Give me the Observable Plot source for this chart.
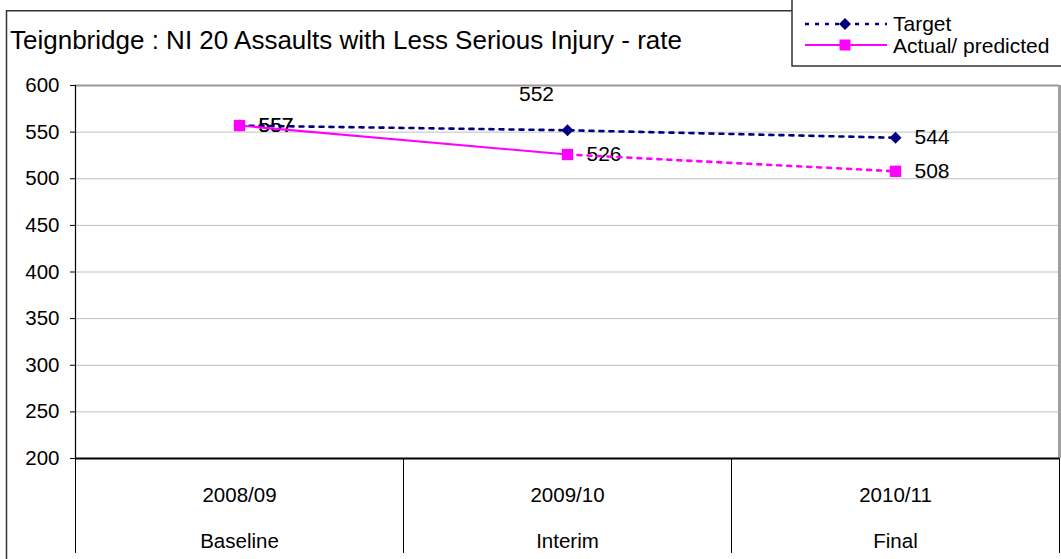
<!DOCTYPE html>
<html>
<head>
<meta charset="utf-8">
<script src="https://cdn.jsdelivr.net/npm/d3@7"></script>
<script src="https://cdn.jsdelivr.net/npm/@observablehq/plot@0.6"></script>
<style>
  body { margin: 0; background: #fff; font-family: Arial, "Liberation Sans", sans-serif; }
  #wrap { position: relative; width: 1061px; height: 559px; overflow: hidden; background: #fff; }
  #chart { position: absolute; left: 0; top: 0; }
  #ov { position: absolute; left: 0; top: 0; pointer-events: none; }
</style>
</head>
<body>
<div id="wrap">
  <div id="chart"></div>
  <svg id="ov" width="1061" height="559" font-family="Arial, 'Liberation Sans', sans-serif"></svg>
</div>
<script>
// ---- data ----
const title = "Teignbridge : NI 20 Assaults with Less Serious Injury - rate";
const periods = ["2008/09", "2009/10", "2010/11"];
const stages = ["Baseline", "Interim", "Final"];
const target = [557, 552, 544];
const actual = [557, 526, 508];
const yTicks = [200, 250, 300, 350, 400, 450, 500, 550, 600];
const seriesNames = ["Target", "Actual/ predicted"];
const seriesColors = ["#000080", "#ff00ff"];

const rows = periods.map((p, i) => ({
  pos: i + 0.5, period: p, stage: stages[i], target: target[i], actual: actual[i]
}));

const font = "Arial, 'Liberation Sans', sans-serif";

const chart = Plot.plot({
  width: 1061,
  height: 559,
  marginLeft: 75,
  marginRight: 2,
  marginTop: 85,
  marginBottom: 101,
  style: { fontFamily: font, fontSize: "19px", color: "#000", background: "transparent" },
  x: { domain: [0, periods.length], axis: null },
  y: { domain: [yTicks[0], yTicks[yTicks.length - 1]], axis: null },
  marks: [
    Plot.gridY(yTicks.slice(1, -1), { stroke: "#c0c0c0", strokeOpacity: 1, strokeWidth: 1 }),
    Plot.ruleY([yTicks[yTicks.length - 1]], { stroke: "#999", strokeWidth: 2 }),
    Plot.ruleX([periods.length], { stroke: "#a0a0a0", strokeWidth: 3 }),
    Plot.axisY({ ticks: yTicks, tickSize: 5, tickPadding: 11, fontSize: 20.5, label: null, tickFormat: d => String(d), stroke: "#000", strokeOpacity: 1 }),
    Plot.axisX({ ticks: d3.range(periods.length + 1), tickSize: 95, label: null, tickFormat: () => "", stroke: "#000", strokeOpacity: 1 }),
    Plot.axisX({ ticks: rows.map(d => d.pos), tickSize: 0, tickPadding: 29, fontSize: 20.5, label: null, tickFormat: v => periods[Math.floor(v)] }),
    Plot.axisX({ ticks: rows.map(d => d.pos), tickSize: 0, tickPadding: 75, fontSize: 20.5, label: null, tickFormat: v => stages[Math.floor(v)] }),
    Plot.ruleX([0], { stroke: "#000", strokeWidth: 1.2 }),
    Plot.ruleY([yTicks[0]], { stroke: "#000", strokeWidth: 2 }),
    // data labels
    Plot.text(rows.filter(d => d.period !== periods[1]), { x: "pos", y: "target", text: d => String(d.target), dx: 19, textAnchor: "start", fontSize: 21 }),
    Plot.text(rows.filter(d => d.period === periods[1]), { x: "pos", y: "target", text: d => String(d.target), dx: -31, dy: -36, fontSize: 21 }),
    Plot.text(rows, { x: "pos", y: "actual", text: d => String(d.actual), dx: 19, textAnchor: "start", fontSize: 21 }),
    // lines
    Plot.line(rows, { x: "pos", y: "target", stroke: seriesColors[0], strokeWidth: 2.6, strokeDasharray: "4,6" }),
    Plot.line(rows.slice(0, 2), { x: "pos", y: "actual", stroke: seriesColors[1], strokeWidth: 2 }),
    Plot.line(rows.slice(1), { x: "pos", y: "actual", stroke: seriesColors[1], strokeWidth: 2.6, strokeDasharray: "4,6" }),
    // markers
    Plot.dot(rows, { x: "pos", y: "target", symbol: "diamond2", r: 5.4, fill: seriesColors[0], stroke: "none" }),
    Plot.dot(rows, { x: "pos", y: "actual", symbol: "square", r: 6.4, fill: seriesColors[1], stroke: "none" })
  ]
});
document.getElementById("chart").appendChild(chart);

// ---- overlay: outer frame, title, legend ----
const ov = d3.select("#ov");
ov.append("path").attr("d", "M6.5,560V10.75H1061").attr("fill", "none").attr("stroke", "#333").attr("stroke-width", 1.5);
ov.append("text").attr("x", 10).attr("y", 49).attr("font-size", 26).attr("fill", "#000").text(title);
ov.append("rect").attr("x", 792).attr("y", -3).attr("width", 300).attr("height", 69)
  .attr("fill", "#fff").attr("stroke", "#333").attr("stroke-width", 1.5);
const legY = [24, 45];
const legBase = [31, 53];
seriesNames.forEach((name, i) => {
  const g = ov.append("g");
  g.append("line").attr("x1", 805).attr("x2", 887).attr("y1", legY[i]).attr("y2", legY[i])
    .attr("stroke", seriesColors[i]).attr("stroke-width", i === 0 ? 2.6 : 2)
    .attr("stroke-dasharray", i === 0 ? "4,6" : null);
  if (i === 0) {
    g.append("path").attr("d", d3.symbol(d3.symbolDiamond2, Math.PI * 5.4 * 5.4)()).attr("transform", `translate(845,${legY[i]})`).attr("fill", seriesColors[i]);
  } else {
    g.append("path").attr("d", d3.symbol(d3.symbolSquare, Math.PI * 6.2 * 6.2)()).attr("transform", `translate(845,${legY[i]})`).attr("fill", seriesColors[i]);
  }
  g.append("text").attr("x", 893).attr("y", legBase[i]).attr("font-size", 21).attr("fill", "#000").text(name);
});
</script>
</body>
</html>
